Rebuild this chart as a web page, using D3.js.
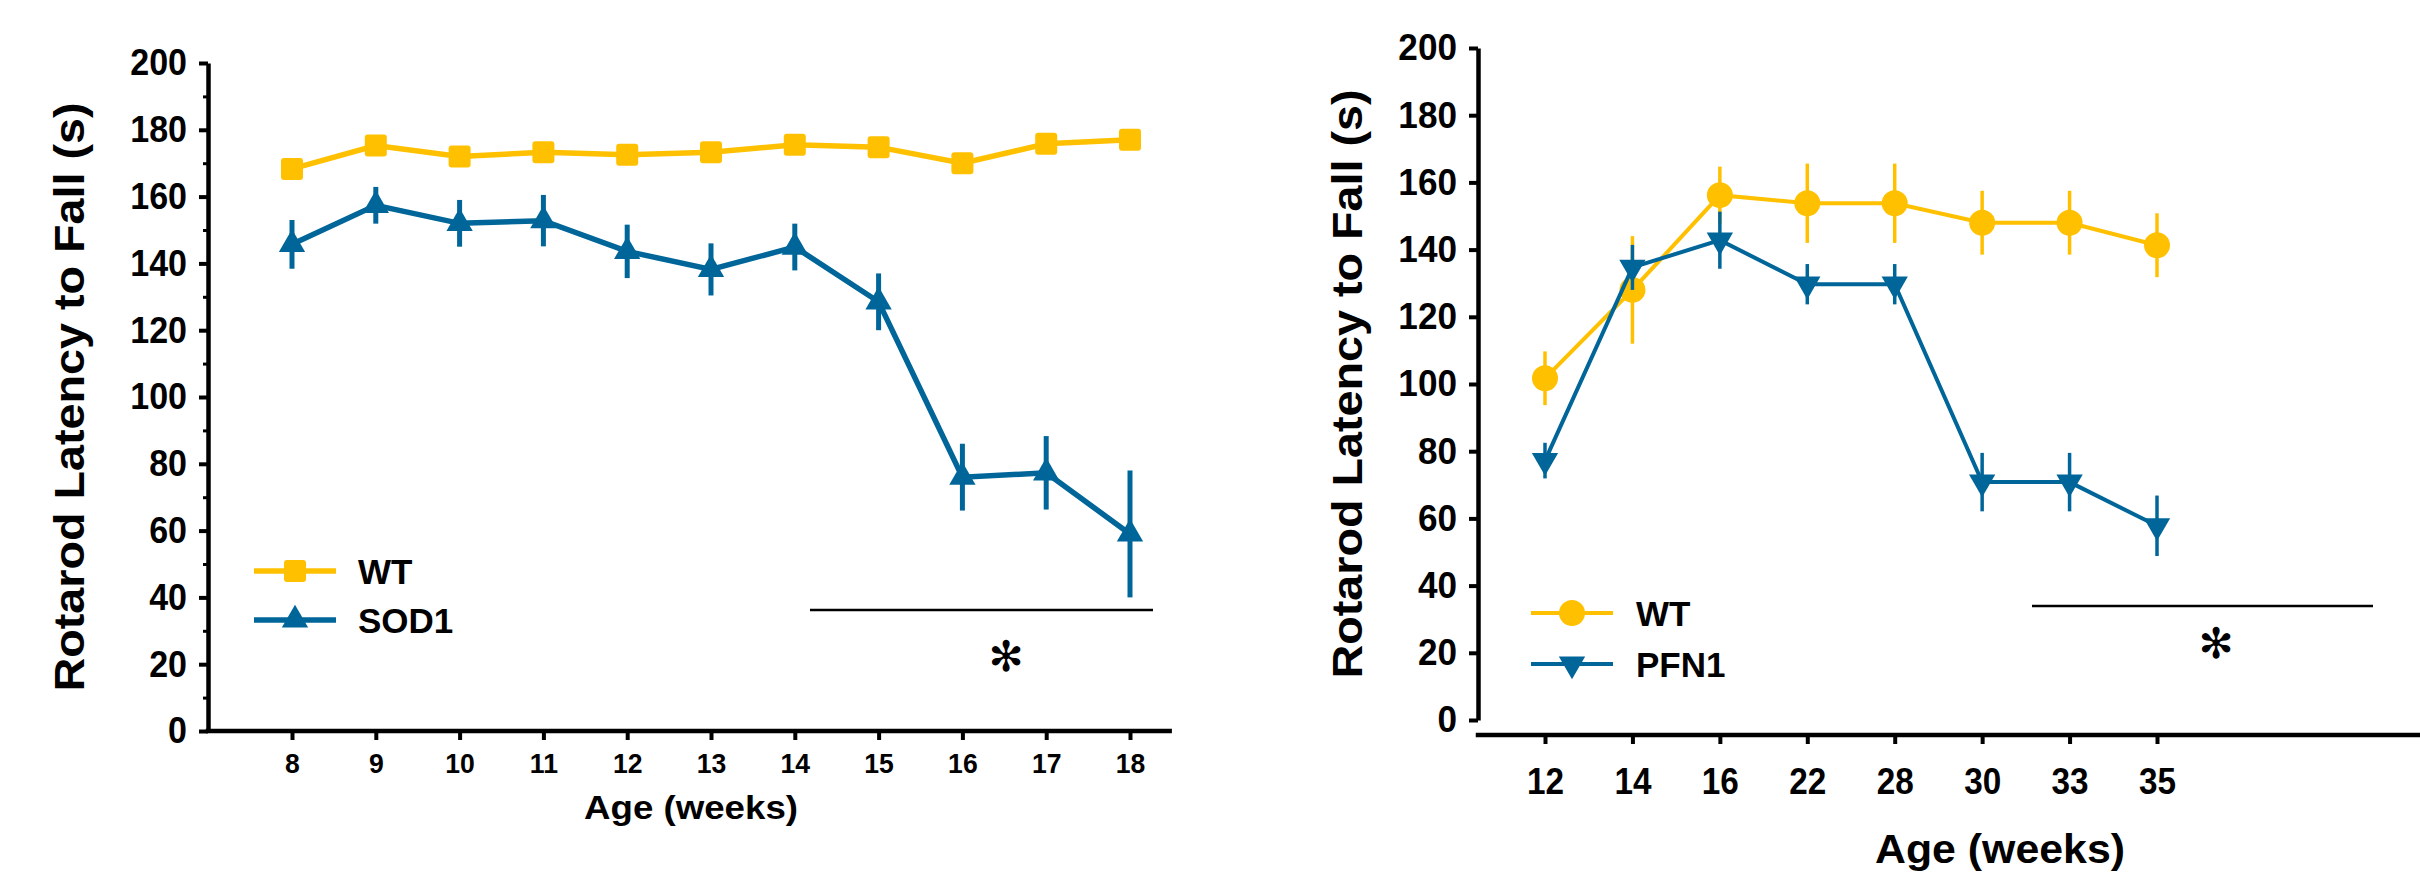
<!DOCTYPE html>
<html lang="en">
<head>
<meta charset="UTF-8" />
<title>Rotarod latency</title>
<script src="https://d3js.org/d3.v7.min.js"></script>
<style>
  body { margin: 0; background: #fff; }
  svg { display: block; font-family: "Liberation Sans", Arial, sans-serif; font-weight: bold; }
  .axis path, .axis line { stroke: #000; }
  .axis text { fill: #000; font-weight: bold; }
</style>
</head>
<body>
<div id="chart"></div>
<script>
// ---- data ----
var ageSOD = ["8", "9", "10", "11", "12", "13", "14", "15", "16", "17", "18"];
var wtSOD = [168.3, 175.3, 172, 173.3, 172.5, 173.3, 175.5, 174.8, 170, 175.8, 177];
var wtSODerr = [3, 3, 3, 3, 3, 3, 3, 3, 3, 3, 3];
var sod1 = [145.7, 157.4, 152, 152.8, 143.6, 138.2, 144.9, 128.5, 76, 77.3, 59];
var sod1err = [7.3, 5.5, 7, 7.7, 8, 7.8, 7, 8.5, 10, 11, 19];

var agePFN = ["12", "14", "16", "22", "28", "30", "33", "35"];
var wtPFN = [101.7, 128, 156.2, 153.8, 153.8, 148, 148, 141.3];
var wtPFNerr = [8, 16, 8.5, 11.8, 11.8, 9.5, 9.5, 9.5];
var pfn1 = [77.2, 134.7, 142.8, 129.7, 129.7, 70.8, 70.8, 57.8];
var pfn1err = [5.3, 6.7, 8.5, 6, 6, 8.7, 8.7, 9];

var yTicks = [0, 20, 40, 60, 80, 100, 120, 140, 160, 180, 200];
var yMinor = [10, 30, 50, 70, 90, 110, 130, 150, 170, 190];

var yellow = "#FFC000", blue = "#006699";

var svg = d3.select("#chart").append("svg")
  .attr("width", 2420).attr("height", 878);

// squash tick labels sideways like the original figure
function condense(sel, sx) {
  sel.selectAll(".tick text").attr("transform", function() {
    var x = +d3.select(this).attr("x") || 0;
    return "translate(" + x + ",0) scale(" + sx + ",1) translate(" + (-x) + ",0)";
  });
}

function drawPanel(o) {
  var g = svg.append("g");
  var y = d3.scaleLinear().domain([0, 200]).range([o.y0, o.y200]);
  var x = d3.scalePoint().domain(o.ages).range([o.xFirst, o.xLast]);
  var step = x.step();

  // y axis
  var ya = g.append("g").attr("class", "axis")
    .attr("transform", "translate(" + o.axisX + ",0)")
    .call(d3.axisLeft(y).tickValues(yTicks).tickSize(9).tickPadding(o.yPad).tickSizeOuter(0));
  ya.select(".domain").attr("stroke-width", o.axisW);
  ya.selectAll(".tick line").attr("stroke-width", o.tickW);
  ya.selectAll(".tick text").style("font-size", o.yFont + "px");
  condense(ya, o.ySx);
  if (o.minor) {
    var ym = g.append("g").attr("class", "axis")
      .attr("transform", "translate(" + o.axisX + ",0)")
      .call(d3.axisLeft(y).tickValues(yMinor).tickSize(5).tickFormat(""));
    ym.select(".domain").remove();
    ym.selectAll(".tick line").attr("stroke-width", 3);
  }

  // x axis
  var xa = g.append("g").attr("class", "axis")
    .attr("transform", "translate(0," + o.xAxisY + ")")
    .call(d3.axisBottom(x).tickSize(o.xTick).tickPadding(o.xPad));
  xa.select(".domain").remove();
  xa.selectAll(".tick line").attr("stroke-width", o.tickW);
  xa.selectAll(".tick text").style("font-size", o.xFont + "px");
  condense(xa, o.xSx);
  g.append("line")
    .attr("x1", o.axisX - o.axisW / 2).attr("x2", o.xEnd == null ? x(o.ages[o.ages.length - 1]) + step / 2 : o.xEnd)
    .attr("y1", o.xAxisY).attr("y2", o.xAxisY)
    .attr("stroke", "#000").attr("stroke-width", o.axisW);

  // axis titles
  g.append("text")
    .attr("transform", "translate(" + o.yTitleX + "," + (o.y0 + o.y200) / 2 + ") rotate(-90)")
    .attr("text-anchor", "middle").attr("dominant-baseline", "central")
    .attr("textLength", o.yTitleLen).attr("lengthAdjust", "spacingAndGlyphs")
    .style("font-size", o.yTitleFont + "px")
    .text("Rotarod Latency to Fall (s)");
  g.append("text")
    .attr("x", o.xTitleX).attr("y", o.xTitleY)
    .attr("text-anchor", "middle").attr("dominant-baseline", "central")
    .attr("textLength", o.xTitleLen).attr("lengthAdjust", "spacingAndGlyphs")
    .style("font-size", o.xTitleFont + "px")
    .text("Age (weeks)");

  // series
  o.series.forEach(function(s) {
    var pts = o.ages.map(function(a, i) { return { a: a, v: s.values[i], e: s.err[i] }; });
    g.append("g").selectAll("line").data(pts).join("line")
      .attr("x1", function(d) { return x(d.a); }).attr("x2", function(d) { return x(d.a); })
      .attr("y1", function(d) { return y(d.v - d.e); }).attr("y2", function(d) { return y(d.v + d.e); })
      .attr("stroke", s.color).attr("stroke-width", o.errW);
    g.append("path").datum(pts)
      .attr("d", d3.line().x(function(d) { return x(d.a); }).y(function(d) { return y(d.v); }))
      .attr("fill", "none").attr("stroke", s.color).attr("stroke-width", o.lineW);
    var m = g.append("g").selectAll("g").data(pts).join("g")
      .attr("transform", function(d) { return "translate(" + x(d.a) + "," + y(d.v) + ")"; });
    drawMarker(m, s);
  });

  // legend
  o.series.forEach(function(s, i) {
    var ly = o.legY[i];
    g.append("line").attr("x1", o.legX1).attr("x2", o.legX2).attr("y1", ly).attr("y2", ly)
      .attr("stroke", s.color).attr("stroke-width", o.lineW);
    var m = g.append("g").attr("transform", "translate(" + (o.legX1 + o.legX2) / 2 + "," + ly + ")");
    drawMarker(m, s);
    g.append("text").attr("x", o.legTextX).attr("y", ly).attr("dominant-baseline", "central")
      .style("font-size", "35px").text(s.name);
  });

  // significance bar
  g.append("line").attr("x1", o.sigX1).attr("x2", o.sigX2).attr("y1", o.sigY).attr("y2", o.sigY)
    .attr("stroke", "#000").attr("stroke-width", 2.5);
  g.append("text").attr("x", o.starX).attr("y", o.starY)
    .attr("text-anchor", "middle").attr("dominant-baseline", "central")
    .style("font-family", "DejaVu Sans").style("font-weight", "normal").style("font-size", "42px")
    .text("\u273B");
}

function drawMarker(sel, s) {
  if (s.shape === "square") {
    sel.append("rect").attr("x", -11).attr("y", -11).attr("width", 22).attr("height", 22)
      .attr("rx", 3).attr("fill", s.color);
  } else if (s.shape === "circle") {
    sel.append("circle").attr("r", 13).attr("fill", s.color);
  } else {
    sel.append("path").attr("d", d3.symbol(d3.symbolTriangle, 300)())
      .attr("transform", s.shape === "down" ? "rotate(180)" : null)
      .attr("fill", s.color);
  }
}

drawPanel({
  ages: ageSOD, axisX: 208, y0: 731, y200: 63, xFirst: 292, xLast: 1130, xAxisY: 731,
  axisW: 4.5, tickW: 4, xTick: 9, xPad: 13, yPad: 12, yFont: 37, ySx: 0.92, xFont: 28, xSx: 0.95, minor: true,
  yTitleX: 69, yTitleLen: 589, yTitleFont: 42,
  xTitleX: 691, xTitleY: 807, xTitleLen: 214, xTitleFont: 34,
  lineW: 5.5, errW: 5,
  series: [
    { name: "WT", values: wtSOD, err: wtSODerr, color: yellow, shape: "square" },
    { name: "SOD1", values: sod1, err: sod1err, color: blue, shape: "up" }
  ],
  legX1: 254, legX2: 336, legY: [571, 620], legTextX: 358,
  sigX1: 810, sigX2: 1153, sigY: 610, starX: 1006, starY: 656
});

drawPanel({
  ages: agePFN, axisX: 1478, y0: 720, y200: 48, xFirst: 1545, xLast: 2157, xAxisY: 735, xEnd: 2420,
  axisW: 4.5, tickW: 4, xTick: 9, xPad: 24, yPad: 12, yFont: 37, ySx: 0.95, xFont: 37, xSx: 0.9, minor: false,
  yTitleX: 1347, yTitleLen: 589, yTitleFont: 42,
  xTitleX: 2000, xTitleY: 849, xTitleLen: 250, xTitleFont: 40,
  lineW: 4, errW: 3.5,
  series: [
    { name: "WT", values: wtPFN, err: wtPFNerr, color: yellow, shape: "circle" },
    { name: "PFN1", values: pfn1, err: pfn1err, color: blue, shape: "down" }
  ],
  legX1: 1531, legX2: 1613, legY: [613, 664], legTextX: 1636,
  sigX1: 2032, sigX2: 2373, sigY: 606, starX: 2216, starY: 643
});
</script>
</body>
</html>
